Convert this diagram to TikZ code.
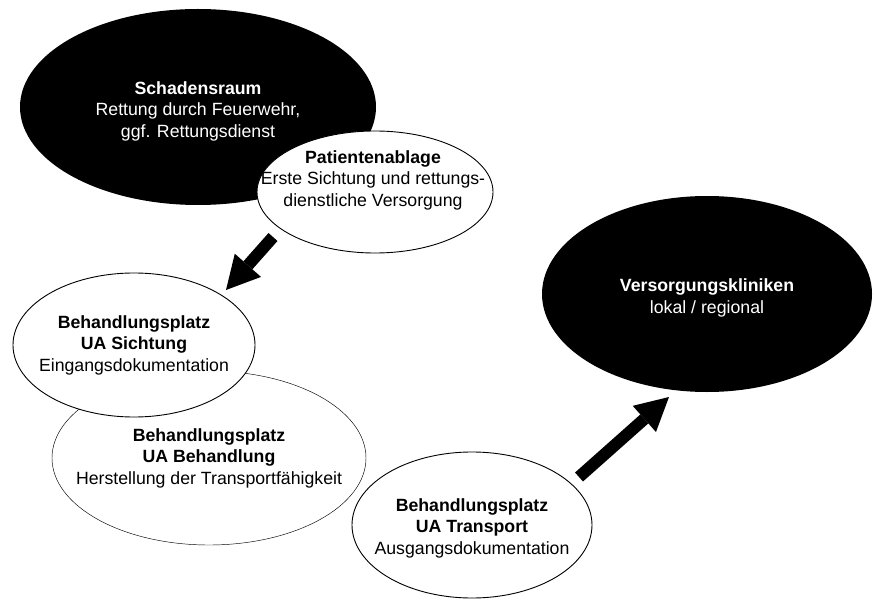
\documentclass[tikz,border=0pt]{standalone}
\usepackage{fontspec}
\setmainfont{Liberation Sans}
\usetikzlibrary{arrows.meta,shapes.geometric}

\begin{document}
\begin{tikzpicture}[x=1pt, y=-1pt,
    lbl/.style={align=center, inner sep=0pt, font=\fontsize{17.7}{21.5}\selectfont},
    ell/.style={ellipse, inner sep=0pt},
    darkell/.style={ell, fill=black},
    lightell/.style={ell, draw=black, fill=white, line width=0.9pt},
    thinell/.style={ell, draw=black, fill=white, line width=0.45pt},
    flow/.style={line width=12pt,
                 -{Triangle[length=33pt, width=35pt, line width=0pt]}}]
  \useasboundingbox (0,0) rectangle (874,601);
  % damage area and patient drop-off
  \node[darkell, minimum width=356pt, minimum height=196pt,
        label={[lbl, text=white, yshift=-4pt]center:{\textbf{Schadensraum}\\Rettung durch Feuerwehr,\\ggf. Rettungsdienst}}]
    (sraum) at (198,107) {};
  \node[lightell, minimum width=236pt, minimum height=122pt,
        label={[lbl, xshift=-2pt, yshift=12pt]center:{\textbf{Patientenablage}\\Erste Sichtung und rettungs-\\dienstliche Versorgung}}]
    (pab) at (375,192) {};
  % treatment area
  \node[thinell, minimum width=314pt, minimum height=174pt,
        label={[lbl]center:{\textbf{Behandlungsplatz}\\\textbf{UA Behandlung}\\Herstellung der Transportfähigkeit}}]
    (behand) at (209,458) {};
  \node[lightell, minimum width=242pt, minimum height=144pt,
        label={[lbl]center:{\textbf{Behandlungsplatz}\\\textbf{UA Sichtung}\\Eingangsdokumentation}}]
    (sicht) at (134,345) {};
  \node[lightell, minimum width=240pt, minimum height=146pt,
        label={[lbl, yshift=-3pt]center:{\textbf{Behandlungsplatz}\\\textbf{UA Transport}\\Ausgangsdokumentation}}]
    (transp) at (472,525) {};
  % hospitals
  \node[darkell, minimum width=330pt, minimum height=196pt,
        label={[lbl, text=white, yshift=-4pt]center:{\textbf{Versorgungskliniken}\\lokal / regional}}]
    (vkl) at (707,294) {};
  % flow arrows
  \coordinate (f1s) at (273,237);  \coordinate (f1e) at (226,290);
  \coordinate (f2s) at (579,477);  \coordinate (f2e) at (669,397);
  \draw[flow] (f1s) -- (f1e);
  \draw[flow] (f2s) -- (f2e);
\end{tikzpicture}
\end{document}
